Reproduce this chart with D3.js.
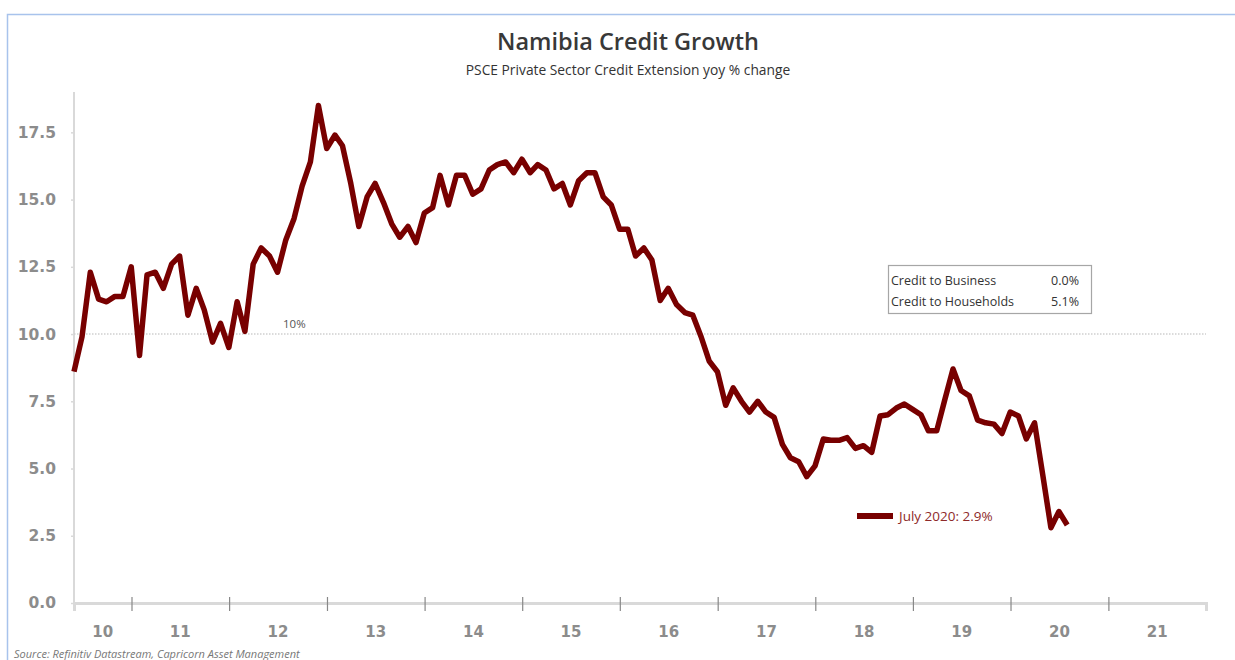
<!DOCTYPE html>
<html>
<head>
<meta charset="utf-8">
<script src="https://cdn.jsdelivr.net/npm/d3@7"></script>
<style>
  body { margin: 0; background: #fff; }
</style>
</head>
<body>
<div id="chart"></div>
<script>
// Data: PSCE yoy % change, monthly (month-end), May 2010 .. July 2020
var first_month = "2010-05";
var psce = [
    8.6, 9.9, 12.3, 11.3, 11.2, 11.4, 11.4, 12.5, 9.2, 12.2,
    12.3, 11.7, 12.6, 12.9, 10.7, 11.7, 10.9, 9.7, 10.4, 9.5,
    11.2, 10.1, 12.6, 13.2, 12.9, 12.3, 13.5, 14.3, 15.5, 16.4,
    18.5, 16.9, 17.4, 17.0, 15.6, 14.0, 15.1, 15.6, 14.9, 14.1,
    13.6, 14.0, 13.4, 14.5, 14.7, 15.9, 14.8, 15.9, 15.9, 15.2,
    15.4, 16.1, 16.3, 16.4, 16.0, 16.5, 16.0, 16.3, 16.1, 15.4,
    15.6, 14.8, 15.7, 16.0, 16.0, 15.1, 14.8, 13.9, 13.9, 12.9,
    13.2, 12.75, 11.25, 11.7, 11.1, 10.8, 10.7, 9.9, 9.0, 8.6,
    7.35, 8.0, 7.5, 7.1, 7.5, 7.1, 6.9, 5.9, 5.4, 5.25,
    4.7, 5.1, 6.1, 6.05, 6.05, 6.15, 5.75, 5.85, 5.6, 6.95,
    7.0, 7.25, 7.4, 7.2, 7.0, 6.4, 6.4, 7.55, 8.7, 7.9,
    7.7, 6.8, 6.7, 6.65, 6.3, 7.1, 6.95, 6.1, 6.7, 4.8,
    2.8, 3.4, 2.9
];
var y_ticks = [0, 2.5, 5, 7.5, 10, 12.5, 15, 17.5];
var year_labels = ["10", "11", "12", "13", "14", "15", "16", "17", "18", "19", "20", "21"];
var table_labels = ["Credit to Business", "Credit to Households"];
var table_values = ["0.0%", "5.1%"];
var threshold = 10;
var last_label = "July 2020: 2.9%";

var width = 1235,
    height = 660,
    x0 = 74, x1 = 1206,
    y0 = 603, y1 = 92,
    line_color = "#780000",
    axis_gray = "#d9d9d9",
    label_gray = "#8c8c8c",
    sans2 = "'Open Sans', sans-serif",
    axis_font = "'DejaVu Sans', sans-serif";

// month-end dates for each point
var parse = d3.timeParse("%Y-%m");
var start = parse(first_month);
var dates = psce.map(function(d, i) {
    return d3.timeDay.offset(d3.timeMonth.offset(start, i + 1), -1);
});
var data = psce.map(function(v, i) { return {date: dates[i], value: v}; });

var x = d3.scaleTime()
    .domain([dates[0], new Date(2022, 0, 1)])
    .range([x0, x1]);
var y = d3.scaleLinear()
    .domain([0, 19])
    .range([y0, y1]);

var svg = d3.select("#chart").append("svg")
    .attr("width", width)
    .attr("height", height)
    .attr("font-family", sans2);

// frame
svg.append("rect")
    .attr("x", 7.5).attr("y", 14.5)
    .attr("width", 1240).attr("height", 700)
    .attr("fill", "#fff")
    .attr("stroke", "#a8c3ec")
    .attr("stroke-width", 1.5);

// titles
svg.append("text")
    .attr("x", 628).attr("y", 50)
    .attr("text-anchor", "middle")
    .attr("font-size", 23.5)
    .attr("font-weight", 600)
    .attr("fill", "#383838")
    .text("Namibia Credit Growth");
svg.append("text")
    .attr("x", 628).attr("y", 75)
    .attr("text-anchor", "middle")
    .attr("font-size", 13.8)
    .attr("font-weight", 500)
    .attr("fill", "#333")
    .text("PSCE Private Sector Credit Extension yoy % change");

// y axis
var yAxis = d3.axisLeft(y)
    .tickValues(y_ticks)
    .tickFormat(d3.format(".1f"))
    .tickSize(3)
    .tickPadding(15);
var gy = svg.append("g")
    .attr("transform", "translate(" + x0 + ",0)")
    .call(yAxis);
gy.select(".domain").remove();
gy.selectAll(".tick line").attr("stroke", axis_gray).attr("stroke-width", 1.5);
gy.attr("font-family", axis_font);
gy.selectAll(".tick text")
    .attr("fill", label_gray)
    .attr("font-size", 15.5)
    .attr("font-weight", "bold");
svg.append("line")
    .attr("x1", x0).attr("x2", x0)
    .attr("y1", y1).attr("y2", y0)
    .attr("stroke", axis_gray)
    .attr("stroke-width", 2);

// 10% dotted line
svg.append("line")
    .attr("x1", x0).attr("x2", x1)
    .attr("y1", y(threshold)).attr("y2", y(threshold))
    .attr("stroke", "#cfcfcf")
    .attr("stroke-width", 1.5)
    .attr("stroke-dasharray", "1.5,1.5");
svg.append("text")
    .attr("x", 283).attr("y", y(threshold) - 6)
    .attr("font-size", 11.5)
    .attr("fill", "#555")
    .text(threshold + "%");

// x axis
var year_ticks = d3.range(2011, 2022).map(function(yr) { return new Date(yr, 0, 1); });
var xAxis = d3.axisBottom(x)
    .tickValues(year_ticks)
    .tickFormat("")
    .tickSize(8);
var gx = svg.append("g")
    .attr("transform", "translate(0," + y0 + ")")
    .call(xAxis);
gx.select(".domain").attr("stroke", axis_gray).attr("stroke-width", 3);
gx.selectAll(".tick line")
    .attr("y1", -6)
    .attr("stroke", "#888").attr("stroke-width", 1.2);

// year labels centered in each year band
var bounds = [dates[0]].concat(year_ticks, [new Date(2022, 0, 1)]);
svg.append("g").selectAll("text")
    .data(year_labels)
    .enter()
    .append("text")
    .attr("x", function(d, i) { return (x(bounds[i]) + x(bounds[i + 1])) / 2; })
    .attr("y", 637)
    .attr("text-anchor", "middle")
    .attr("font-family", axis_font)
    .attr("font-size", 15)
    .attr("font-weight", "bold")
    .attr("fill", label_gray)
    .text(function(d) { return d; });

// the series
var line = d3.line()
    .x(function(d) { return x(d.date); })
    .y(function(d) { return y(d.value); });
svg.append("path")
    .datum(data)
    .attr("d", line)
    .attr("fill", "none")
    .attr("stroke", line_color)
    .attr("stroke-width", 5.5)
    .attr("stroke-linejoin", "round");

// info table
svg.append("rect")
    .attr("x", 888.5).attr("y", 265.5)
    .attr("width", 203).attr("height", 48)
    .attr("fill", "#fff")
    .attr("stroke", "#a6a6a6")
    .attr("stroke-width", 1.2);
var rows = svg.append("g").selectAll("g")
    .data(table_labels)
    .enter()
    .append("g")
    .attr("transform", function(d, i) { return "translate(0," + (285 + i * 21) + ")"; });
rows.append("text")
    .attr("x", 891)
    .attr("font-size", 12.5)
    .attr("fill", "#333")
    .text(function(d) { return d; });
rows.append("text")
    .attr("x", 1079)
    .attr("text-anchor", "end")
    .attr("font-size", 12.5)
    .attr("fill", "#333")
    .text(function(d, i) { return table_values[i]; });

// legend for last value
svg.append("line")
    .attr("x1", 857).attr("x2", 893)
    .attr("y1", 516).attr("y2", 516)
    .attr("stroke", line_color)
    .attr("stroke-width", 6);
svg.append("text")
    .attr("x", 899).attr("y", 521)
    .attr("font-size", 13.5)
    .attr("fill", "#8e2a2a")
    .text(last_label);

// source
svg.append("text")
    .attr("x", 14).attr("y", 658)
    .attr("font-size", 11)
    .attr("font-style", "italic")
    .attr("fill", "#777")
    .text("Source: Refinitiv Datastream, Capricorn Asset Management");
</script>
</body>
</html>
